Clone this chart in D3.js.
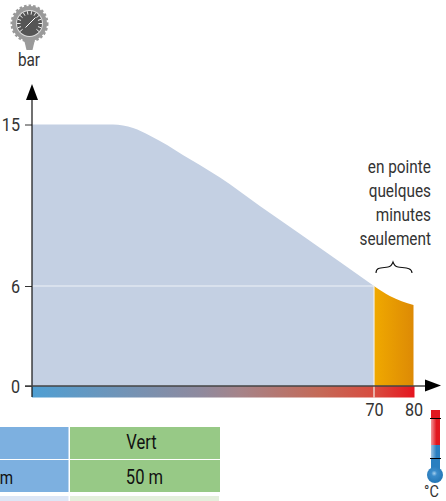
<!DOCTYPE html>
<html>
<head>
<meta charset="utf-8">
<script src="https://cdn.jsdelivr.net/npm/d3@7/dist/d3.min.js"></script>
<style>
html, body { margin: 0; padding: 0; background: #fff; overflow: hidden; }
text { font-family: "Roboto", sans-serif; font-weight: 400; }
</style>
</head>
<body>
<div id="chart"></div>
<script>
// values
var tempAll = [-16.6, 3.9, 9, 13.3, 17.6, 21.6, 25.9, 31, 41.1, 51.3, 61.4, 70];
var pressureAll = [15, 15, 14.81, 14.38, 13.86, 13.3, 12.74, 12.04, 10.46, 8.9, 7.34, 6];
var tempPeak = [70, 74, 80];
var pressurePeak = [6, 5.4, 4.86];
var yTicks = [0, 6, 15];
var xTicks = [70, 80];
var noteLines = ["en pointe", "quelques", "minutes", "seulement"];
var tableHeader = ["", "Vert"];
var tableRow = ["m", "50 m"];

var width = 446, height = 501;

var svg = d3.select("#chart").append("svg")
  .attr("width", width)
  .attr("height", height);

// the printed axis is not quite even between 6 and 15, hence three stops
var x = d3.scaleLinear().domain([-16.6, 70, 80]).range([32, 374, 413.5]);
var y = d3.scaleLinear().domain([0, 6, 15]).range([386, 286, 124.5]);

// no condensed font is installed, so squeeze the glyphs
function squeeze(sel, k) {
  sel.each(function() {
    d3.select(this)
      .attr("textLength", this.getComputedTextLength() * k)
      .attr("lengthAdjust", "spacingAndGlyphs");
  });
}

var defs = svg.append("defs");

var strip = defs.append("linearGradient").attr("id", "strip");
[[0, "#4f9fd3"], [44, "#8f8a9e"], [54, "#a5848a"], [75, "#c46a58"], [90, "#d94a3e"], [100, "#e5151f"]].forEach(function(s) {
  strip.append("stop").attr("offset", s[0] + "%").attr("stop-color", s[1]);
});

var peak = defs.append("linearGradient").attr("id", "peak");
peak.append("stop").attr("offset", "0%").attr("stop-color", "#f0a900");
peak.append("stop").attr("offset", "100%").attr("stop-color", "#dd8a05");

var shine = defs.append("linearGradient").attr("id", "shine");
shine.append("stop").attr("offset", "0%").attr("stop-color", "#fff").attr("stop-opacity", 0.55);
shine.append("stop").attr("offset", "60%").attr("stop-color", "#fff").attr("stop-opacity", 0);

var bulb = defs.append("radialGradient").attr("id", "bulb")
  .attr("cx", "45%").attr("cy", "40%").attr("r", "60%");
bulb.append("stop").attr("offset", "0%").attr("stop-color", "#a5d0ee");
bulb.append("stop").attr("offset", "30%").attr("stop-color", "#3b8ccb");
bulb.append("stop").attr("offset", "100%").attr("stop-color", "#2376b5");

var zip = function(xs, ys) {
  return xs.map(function(d, i) { return [d, ys[i]]; });
};

var area = d3.area()
  .x(function(d) { return x(d[0]); })
  .y0(y(0))
  .y1(function(d) { return y(d[1]); })
  .curve(d3.curveMonotoneX);

// areas
svg.append("path")
  .attr("d", area(zip(tempAll, pressureAll)))
  .attr("fill", "#c4d0e3");

svg.append("path")
  .attr("d", area(zip(tempPeak, pressurePeak)))
  .attr("fill", "url(#peak)");

// temperature strip under the axis
svg.append("rect")
  .attr("x", x(-16.6))
  .attr("y", y(0))
  .attr("width", x(80) - x(-16.6) + 1)
  .attr("height", 11.5)
  .attr("fill", "url(#strip)");

// white guides at 6 bar and 70 degrees
svg.append("line")
  .attr("x1", x(-16.6)).attr("x2", x(70))
  .attr("y1", y(6)).attr("y2", y(6))
  .attr("stroke", "#eef2f7").attr("stroke-width", 1);
svg.append("line")
  .attr("x1", x(70)).attr("x2", x(70))
  .attr("y1", y(6)).attr("y2", y(0) + 11.5)
  .attr("stroke", "#f3f0ea").attr("stroke-width", 1.2);

// axes
var yAxis = svg.append("g")
  .attr("transform", "translate(32,0)")
  .call(d3.axisLeft(y).tickValues(yTicks).tickSize(7).tickPadding(5));
yAxis.select(".domain").remove();
yAxis.selectAll("line").attr("stroke", "#333");
yAxis.selectAll("text").attr("font-size", 19).attr("fill", "#333").call(squeeze, 0.85);

var xAxis = svg.append("g")
  .attr("transform", "translate(0,397)")
  .call(d3.axisBottom(x).tickValues(xTicks).tickSize(0).tickPadding(6));
xAxis.select(".domain").remove();
xAxis.selectAll("text").attr("font-size", 19).attr("fill", "#333").call(squeeze, 0.85);

svg.append("line")
  .attr("x1", 32).attr("x2", 32).attr("y1", 97).attr("y2", 397)
  .attr("stroke", "#111").attr("stroke-width", 1.2);
svg.append("path").attr("d", "M32,84L38,100L26,100Z").attr("fill", "#000");

svg.append("line")
  .attr("x1", 25).attr("x2", 426).attr("y1", 386).attr("y2", 386)
  .attr("stroke", "#444").attr("stroke-width", 1.5);
svg.append("path").attr("d", "M425,379.5L441,385.5L425,391.5Z").attr("fill", "#000");

// note over the peak
svg.append("g").selectAll("text")
  .data(noteLines)
  .join("text")
  .attr("x", 431)
  .attr("y", function(d, i) { return 172.5 + i * 24; })
  .attr("text-anchor", "end")
  .attr("font-size", 18.5)
  .attr("fill", "#333")
  .text(function(d) { return d; })
  .call(squeeze, 0.83);

svg.append("path")
  .attr("d", "M376,273C376,267 382,268 388,267C391,266.5 392,265 393,262C394,265 395,266.5 398,267C404,268 412,267 412,273")
  .attr("fill", "none")
  .attr("stroke", "#111")
  .attr("stroke-width", 1.1);

// gauge icon
var gauge = svg.append("g").attr("transform", "translate(29.5,23.5)");
gauge.append("path").attr("d", "M-6,14L-3,26.5L3,26.5L6,14Z").attr("fill", "#9a9a9a");
gauge.append("circle").attr("r", 17.5).attr("fill", "#9a9a9a")
  .attr("stroke", "#9a9a9a").attr("stroke-width", 3).attr("stroke-dasharray", "2.5 2");
gauge.append("circle").attr("r", 13.5).attr("fill", "#ddd");
gauge.append("circle").attr("r", 12.5).attr("fill", "#555");
d3.range(-130, 131, 20).forEach(function(a) {
  var r = a * Math.PI / 180;
  gauge.append("line")
    .attr("x1", 9 * Math.sin(r)).attr("y1", -9 * Math.cos(r))
    .attr("x2", 12.5 * Math.sin(r)).attr("y2", -12.5 * Math.cos(r))
    .attr("stroke", "#eee").attr("stroke-width", 1);
});
gauge.append("line")
  .attr("x1", -4).attr("y1", 4).attr("x2", 6).attr("y2", -6)
  .attr("stroke", "#fff").attr("stroke-width", 1);
svg.append("text")
  .attr("x", 29).attr("y", 66)
  .attr("text-anchor", "middle")
  .attr("font-size", 18.5)
  .attr("fill", "#333")
  .text("bar")
  .call(squeeze, 0.83);

// thermometer icon
var therm = svg.append("g");
therm.append("rect").attr("x", 431).attr("y", 410).attr("width", 9).attr("height", 35).attr("fill", "#e2171f");
therm.append("rect").attr("x", 431).attr("y", 445).attr("width", 9).attr("height", 26).attr("fill", "#2a7fc0");
therm.append("rect").attr("x", 431).attr("y", 418).attr("width", 9).attr("height", 40).attr("fill", "url(#shine)");
therm.append("circle").attr("cx", 435).attr("cy", 475).attr("r", 8).attr("fill", "url(#bulb)");
therm.append("line").attr("x1", 430).attr("x2", 441).attr("y1", 418.5).attr("y2", 418.5).attr("stroke", "#000");
therm.append("line").attr("x1", 430).attr("x2", 441).attr("y1", 458.5).attr("y2", 458.5).attr("stroke", "#000");
svg.append("text")
  .attr("x", 431.5).attr("y", 497)
  .attr("text-anchor", "middle")
  .attr("font-size", 17)
  .attr("fill", "#333")
  .text("°C")
  .call(squeeze, 0.85);

// piece of the table cut off by the crop
var cells = [
  { x: 0, y: 427, w: 68.5, h: 32, fill: "#7db0e0" },
  { x: 70, y: 427, w: 150, h: 32, fill: "#97c986" },
  { x: 0, y: 460, w: 68.5, h: 32, fill: "#7db0e0" },
  { x: 70, y: 460, w: 150, h: 32, fill: "#97c986" },
  { x: 0, y: 496, w: 68.5, h: 5, fill: "#dde6f5" },
  { x: 70, y: 496, w: 149, h: 5, fill: "#e4efdc" }
];
svg.append("g").selectAll("rect")
  .data(cells)
  .join("rect")
  .attr("x", function(d) { return d.x; })
  .attr("y", function(d) { return d.y; })
  .attr("width", function(d) { return d.w; })
  .attr("height", function(d) { return d.h; })
  .attr("fill", function(d) { return d.fill; });

svg.append("text").attr("x", 141.5).attr("y", 449).attr("text-anchor", "middle")
  .attr("font-size", 19.5).attr("fill", "#111").text(tableHeader[1]).call(squeeze, 0.85);
svg.append("text").attr("x", 144.5).attr("y", 484).attr("text-anchor", "middle")
  .attr("font-size", 19.5).attr("fill", "#111").text(tableRow[1]).call(squeeze, 0.85);
svg.append("text").attr("x", 13).attr("y", 484).attr("text-anchor", "end")
  .attr("font-size", 19).attr("fill", "#111").text(tableRow[0]).call(squeeze, 0.8);
</script>
</body>
</html>
